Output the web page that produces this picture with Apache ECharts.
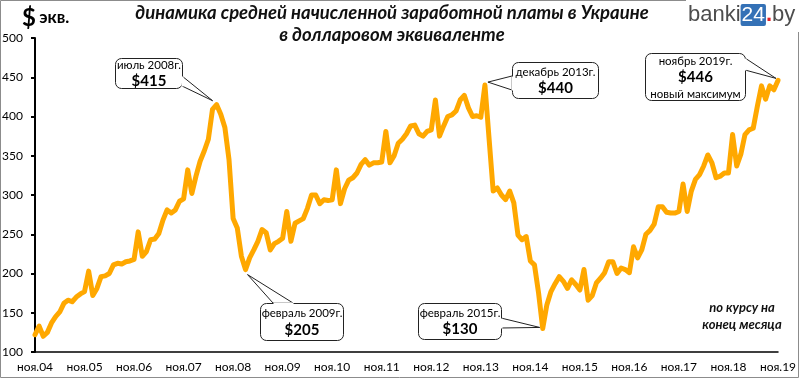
<!DOCTYPE html>
<html><head><meta charset="utf-8">
<script src="https://cdn.jsdelivr.net/npm/echarts@6/dist/echarts.min.js"></script>
<style>html,body{margin:0;padding:0;background:#fff}#c{width:800px;height:379px}</style>
</head><body><div id="c"></div>
<script>
// ---- data ----
const monthNames = ['янв','фев','мар','апр','май','июн','июл','авг','сен','окт','ноя','дек'];
const startYear = 2004;
const startMonthIdx = 10; // ноябрь 2004
const salaryUSD = [
  122,133,120,125,137,145,151,162,166,164,170,174,
  177,203,172,181,196,197,200,211,213,212,215,216,
  218,253,222,228,243,244,251,268,281,277,281,292,
  295,332,302,324,343,356,371,409,415,403,386,345,
  270,258,222,205,220,230,241,256,252,230,238,241,
  245,279,241,264,267,270,283,300,300,289,294,293,
  294,332,289,308,319,322,328,339,345,338,341,341,
  342,381,341,350,366,371,378,388,389,378,375,381,
  383,421,375,388,400,402,407,421,427,411,400,401,
  399,440,372,305,309,300,294,305,290,249,243,247,
  216,211,175,130,160,177,187,196,190,181,192,186,
  179,205,166,172,188,194,201,215,215,200,207,205,
  201,234,220,230,250,255,263,285,285,278,277,277,
  279,314,279,305,320,326,337,351,341,322,324,328,
  328,377,337,352,377,383,385,413,439,422,439,434,
  446
];
const yMin = 100, yMax = 500, yStep = 50;
const titleLines = ['динамика средней начисленной заработной платы в Украине', 'в долларовом эквиваленте'];
const noteLines = ['по курсу на', 'конец месяца'];
const callouts = [
  { index: 44,  head: 'июль 2008г.',    value: '$415', extra: null },
  { index: 51,  head: 'февраль 2009г.', value: '$205', extra: null },
  { index: 109, head: 'декабрь 2013г.', value: '$440', extra: null },
  { index: 123, head: 'февраль 2015г.', value: '$130', extra: null },
  { index: 180, head: 'ноябрь 2019г.',  value: '$446', extra: 'новый максимум' }
];

const categories = salaryUSD.map((_, i) => {
  const k = startMonthIdx + i;
  const m = k % 12, y = startYear + Math.floor(k / 12);
  return monthNames[m] + '.' + String(y % 100).padStart(2, '0');
});

// ---- layout (styles / positions only) ----
const FONT = 'Lato, "Noto Sans", sans-serif';
const boxes = [
  { x: 115, y: 58,  w: 67,  h: 30, side: 'right', base: [76, 86], off: [-4, -4] },
  { x: 260, y: 303, w: 83,  h: 37, side: 'top',   base: [273, 293], off: [2, 5] },
  { x: 512, y: 62,  w: 86,  h: 36, side: 'left',  base: [76, 90], off: [3, -3] },
  { x: 418, y: 303, w: 83,  h: 36, side: 'right', base: [318, 328], off: [-3, -1] },
  { x: 645, y: 53,  w: 100, h: 47, side: 'right', base: [58, 70], off: [-2, -2] }
];

const chart = echarts.init(document.getElementById('c'), null, { renderer: 'canvas' });
chart.setOption({
  animation: false,
  backgroundColor: '#fff',
  grid: { left: 35, right: 22, top: 38, bottom: 27, containLabel: false, outerBoundsMode: 'none' },
  xAxis: {
    type: 'category', data: categories, boundaryGap: false,
    axisLine: { lineStyle: { color: '#000', width: 1.5 } },
    axisTick: { show: false },
    axisLabel: { interval: 11, color: '#000', fontFamily: FONT, fontSize: 12, margin: 9 },
    splitLine: { show: false }
  },
  yAxis: {
    type: 'value', min: yMin, max: yMax, interval: yStep,
    axisLine: { show: true, lineStyle: { color: '#000', width: 2 } },
    axisTick: { show: true, length: 4, lineStyle: { color: '#000', width: 2 } },
    axisLabel: { color: '#000', fontFamily: FONT, fontSize: 12, margin: 12, align: 'right' },
    splitLine: { show: false }
  },
  series: [{
    type: 'line', data: salaryUSD, showSymbol: false, smooth: false,
    lineStyle: { color: '#FFA800', width: 5, cap: 'round', join: 'round' },
    z: 5
  }]
});

const g = [];
// frame
g.push({ type: 'rect', shape: { x: 0.5, y: 0.5, width: 798, height: 377 }, style: { fill: null, stroke: '#8c8c8c', lineWidth: 1 }, z: 1, silent: true });
// watermark
g.push({ type: 'rect', shape: { x: 686, y: 0, width: 114, height: 32 }, style: { fill: '#fff' }, z: 2 });
g.push({
  type: 'text', x: 688, y: 4, z: 3,
  style: {
    text: '{a|banki}{b|24}{c|.}{d|by}',
    rich: {
      a: { fontFamily: '"Liberation Sans", Arial, sans-serif', fontSize: 22, fill: '#4d4d4d' },
      b: { fontFamily: '"Liberation Sans", Arial, sans-serif', fontSize: 21, fill: '#fff', backgroundColor: '#3471b6', padding: [1, 1, 0, 1], borderRadius: 2 },
      c: { fontFamily: '"Liberation Sans", Arial, sans-serif', fontSize: 22, fill: '#e31e24', fontWeight: 'bold' },
      d: { fontFamily: '"Liberation Sans", Arial, sans-serif', fontSize: 22, fill: '#4d4d4d' }
    }
  }
});
// "$ экв."
g.push({
  type: 'text', x: 22, y: 6, z: 3,
  style: { text: '{d|$} {e|экв.}', rich: {
    d: { fontFamily: FONT, fontSize: 24, fontWeight: 'bold', fill: '#000' },
    e: { fontFamily: FONT, fontSize: 17, fontWeight: 'bold', fill: '#000' } } }
});
// title
g.push({
  type: 'text', x: 392, y: 2, z: 3,
  style: { text: titleLines.join('\n'), fontFamily: FONT, fontSize: 18.5, fontWeight: 'bold', fontStyle: 'italic',
    fill: '#111', align: 'center', lineHeight: 22 }
});
// note
g.push({
  type: 'text', x: 742, y: 299, z: 3,
  style: { text: noteLines.join('\n'), fontFamily: FONT, fontSize: 13, fontWeight: 'bold', fontStyle: 'italic',
    fill: '#111', align: 'center', lineHeight: 17 }
});

// callouts
callouts.forEach((c, k) => {
  const b = boxes[k];
  const p = chart.convertToPixel({ seriesIndex: 0 }, [c.index, salaryUSD[c.index]]);
  const tip = [p[0] + b.off[0], p[1] + b.off[1]];
  let b0, b1;
  if (b.side === 'right') { b0 = [b.x + b.w, b.base[0]]; b1 = [b.x + b.w, b.base[1]]; }
  else if (b.side === 'left') { b0 = [b.x, b.base[0]]; b1 = [b.x, b.base[1]]; }
  else { b0 = [b.base[0], b.y]; b1 = [b.base[1], b.y]; }
  g.push({ type: 'polygon', shape: { points: [b0, tip, b1] }, style: { fill: '#fff', stroke: '#222', lineWidth: 1 }, z: 20 });
  g.push({ type: 'rect', shape: { x: b.x + 0.5, y: b.y + 0.5, width: b.w, height: b.h, r: 6 }, style: { fill: '#fff', stroke: '#222', lineWidth: 1 }, z: 21 });
  g.push({ type: 'line', shape: { x1: b0[0] + 0.5, y1: b0[1] + 0.5, x2: b1[0] + 0.5, y2: b1[1] + 0.5 }, style: { stroke: '#fff', lineWidth: 2 }, z: 22 });
  let txt = '{h|' + c.head + '}\n{v|' + c.value + '}';
  if (c.extra) txt += '\n{h|' + c.extra + '}';
  g.push({
    type: 'text', x: b.x + b.w / 2 + 0.5, y: b.y + b.h / 2 + 1, z: 23,
    style: { text: txt, align: 'center', verticalAlign: 'middle',
      rich: {
        h: { fontFamily: FONT, fontSize: 11.5, fill: '#000', lineHeight: 15, align: 'center' },
        v: { fontFamily: FONT, fontSize: 15, fontWeight: 'bold', fill: '#000', lineHeight: 18, align: 'center' }
      } }
  });
});
chart.setOption({ graphic: g });
</script>
</body></html>
